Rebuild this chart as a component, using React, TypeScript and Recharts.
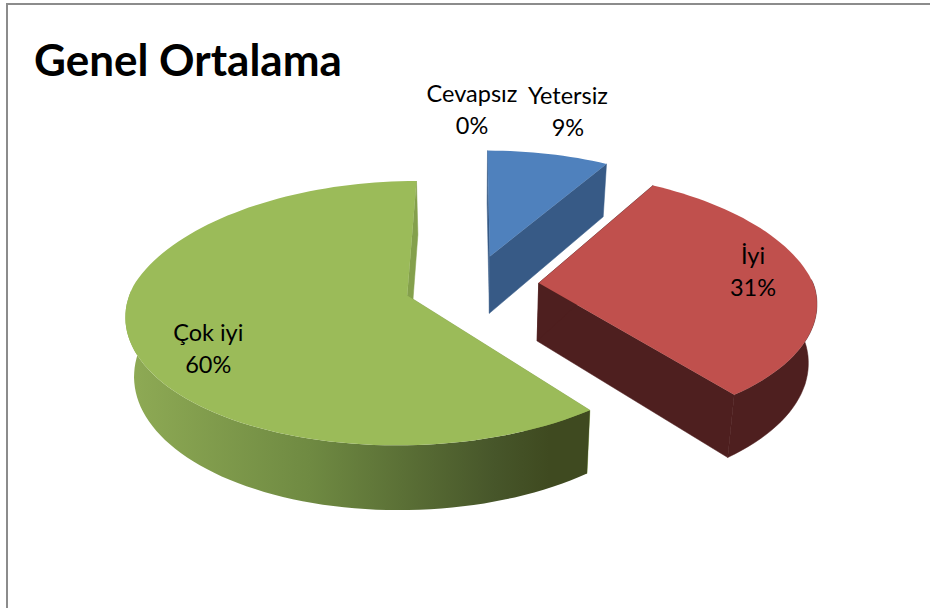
import React from "react";
import { PieChart, Pie } from "recharts";

const categories = ["Yetersiz", "İyi", "Çok iyi", "Cevapsız"];
const values = [8.51, 31, 60.49, 0];
const faceColors = ["#4f81bd", "#c0504d", "#9bbb59", "#8064a2"];
const sideColors = ["#375a86", "#4e1f1f", "#84a04c", "#5a4672"];
const rows = categories.map((name, i) => ({ name, value: values[i], fill: faceColors[i] }));

const WIDTH = 930;
const HEIGHT = 608;
const RADIUS = 275;
const TILT = 127 / 275;
const PERSPECTIVE = 0.133;
const PERSPECTIVE_FAR_X = 0.165;
const DEPTH = 58;
const FLOOR_SCALE = 0.975;
const explode = [0.24, 0.24, 0.25, 0.24];
const FONT = "Lato, 'Open Sans', sans-serif";
const labelNudge: [number, number][] = [
  [34, -62],
  [24, 2],
  [-7, 31],
  [-1, -61],
];

const toRad = (d: number) => (d * Math.PI) / 180;

function project(cx: number, cy: number, r: number, u: number, v: number) {
  const w = 1 / (1 + PERSPECTIVE * v);
  const wx = v > 0 ? 1 / (1 + PERSPECTIVE_FAR_X * v) : w;
  return { x: cx + r * u * wx, y: cy - r * TILT * v * w, w };
}
const lower = (cx: number, p: { x: number; y: number; w: number }) => ({
  x: cx + (p.x - cx) * FLOOR_SCALE,
  y: p.y + DEPTH * (1 + (p.w - 1) * 0.7),
  w: p.w,
});
const toPath = (pts: { x: number; y: number }[]) =>
  "M" + pts.map((p) => `${p.x.toFixed(1)},${p.y.toFixed(1)}`).join("L") + "Z";

function Slice3D(props: any) {
  const { cx, cy, outerRadius, startAngle, endAngle, index, value } = props;
  if (value < 0.5) return null;
  const mid = toRad((startAngle + endAngle) / 2);
  const ou = explode[index] * Math.cos(mid);
  const ov = explode[index] * Math.sin(mid);
  const at = (a: number, rr: number) =>
    project(cx, cy, outerRadius, ou + rr * Math.cos(a), ov + rr * Math.sin(a));
  const steps = Math.max(8, Math.ceil(Math.abs(startAngle - endAngle) / 2));
  const angles = Array.from({ length: steps + 1 }, (_, i) =>
    toRad(startAngle + ((endAngle - startAngle) * i) / steps)
  );
  const arc = angles.map((a) => at(a, 1));
  const frontArc = angles.filter((a) => Math.sin(a) < 0.06).map((a) => at(a, 1));
  const frontLow = frontArc.map((p) => lower(cx, p)).reverse();
  const apex = at(0, 0);
  const apexLow = lower(cx, apex);
  const first = arc[0];
  const last = arc[arc.length - 1];
  const gradId = "wall-gradient";
  const isGreen = index === 2;
  const side = sideColors[index];
  return (
    <g>
      {isGreen && (
        <defs>
          <linearGradient id={gradId} gradientUnits="userSpaceOnUse" x1={126} y1={0} x2={586} y2={0}>
            <stop offset="0" stopColor="#8fab55" />
            <stop offset="0.4" stopColor="#6f8a42" />
            <stop offset="0.8" stopColor="#47562a" />
            <stop offset="0.92" stopColor="#3f4a20" />
            <stop offset="1" stopColor="#3f4a20" />
          </linearGradient>
        </defs>
      )}
      <path d={toPath([apex, last, lower(cx, last), apexLow])} fill={side} stroke={side} strokeWidth={0.5} />
      <path d={toPath([apex, first, lower(cx, first), apexLow])} fill={side} stroke={side} strokeWidth={0.5} />
      {frontArc.length > 1 && (
        <path
          d={toPath([...frontArc, ...frontLow])}
          fill={isGreen ? `url(#${gradId})` : side}
          stroke={isGreen ? "none" : side}
          strokeWidth={0.5}
        />
      )}
      <path d={toPath([apex, ...arc])} fill={faceColors[index]} />
    </g>
  );
}

function SliceLabel(props: any) {
  const { cx, cy, outerRadius, midAngle, index } = props;
  const a = toRad(midAngle);
  const rr = 0.7 + explode[index];
  const w = 1 / (1 + PERSPECTIVE * rr * Math.sin(a));
  const x = cx + outerRadius * rr * Math.cos(a) * w + labelNudge[index][0];
  const y = cy - outerRadius * TILT * rr * Math.sin(a) * w + labelNudge[index][1];
  return (
    <text x={x} y={y} textAnchor="middle" fontFamily={FONT} fontSize={23.5} fill="#000">
      <tspan x={x} y={y - 16}>{categories[index]}</tspan>
      <tspan x={x} y={y + 16}>{`${Math.round(values[index])}%`}</tspan>
    </text>
  );
}

export default function App() {
  return (
    <div style={{ position: "absolute", left: 0, top: 0, width: WIDTH, height: HEIGHT, background: "#fff", overflow: "hidden" }}>
      <div style={{ position: "absolute", left: 6, top: 3, width: WIDTH, height: HEIGHT, borderLeft: "2px solid #8c8c8c", borderTop: "2px solid #8c8c8c", boxSizing: "border-box" }} />
      <div style={{ position: "absolute", left: 0, top: 0 }}>
        <PieChart width={WIDTH} height={HEIGHT} margin={{ top: 0, right: 0, bottom: 0, left: 0 }}>
          <text x={34} y={76} fontFamily={FONT} fontWeight={700} fontSize={44} fill="#000">Genel Ortalama</text>
          <Pie
            data={rows}
            dataKey="value"
            nameKey="name"
            cx={473}
            cy={285}
            outerRadius={RADIUS}
            innerRadius={0}
            startAngle={90}
            endAngle={-270}
            paddingAngle={0}
            stroke="none"
            isAnimationActive={false}
            shape={Slice3D}
            label={SliceLabel}
            labelLine={false}
          />
        </PieChart>
      </div>
    </div>
  );
}
